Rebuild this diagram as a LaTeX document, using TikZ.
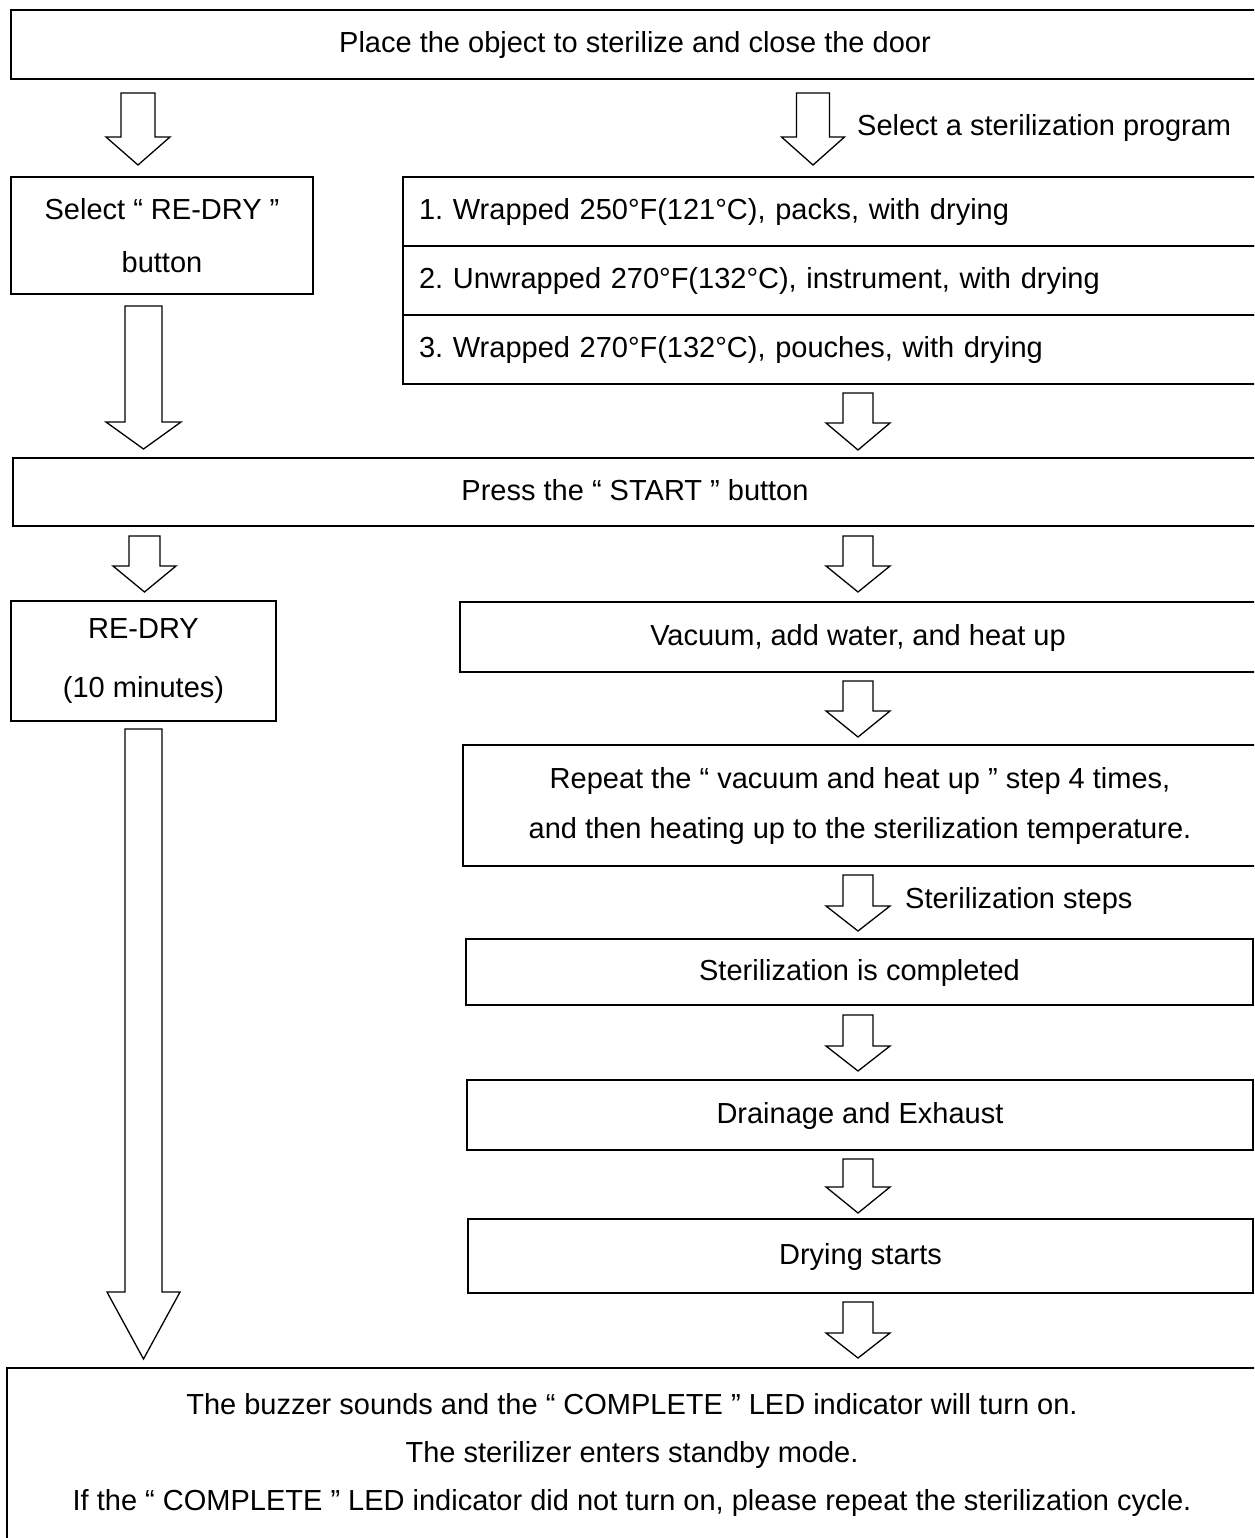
\documentclass[tikz,border=0pt]{standalone}
\usepackage{fontspec}
\setmainfont{Liberation Sans}
\usetikzlibrary{calc}
\frenchspacing
\begin{document}
\begin{tikzpicture}[x=1pt,y=-1pt,
  box/.style={draw=black, line width=1.8pt, fill=white, inner sep=0pt, outer sep=0pt,
    align=center, font=\fontsize{29}{35}\selectfont},
  one/.style={text height=20pt, text depth=4pt},
  row/.style={box, one, minimum height=69pt, text width=835pt, inner xsep=16pt, align=left},
  lbl/.style={inner sep=0pt, font=\fontsize{29}{35}\selectfont},
  % hollow block arrow: stem half-width, head half-width, head length
  blk/.style n args={3}{draw=black, line width=1.3pt, fill=white, line join=miter,
    to path={let \p1=(\tikztostart), \p2=(\tikztotarget) in
      (\x1-#1pt,\y1) -- (\x1-#1pt,\y2+#3pt) -- (\x1-#2pt,\y2+#3pt) -- (\x1,\y2)
      -- (\x1+#2pt,\y2+#3pt) -- (\x1+#1pt,\y2+#3pt) -- (\x1+#1pt,\y1) -- cycle}},
]
\clip (0,0) rectangle (1254,1538);
\fill[white] (0,0) rectangle (1254,1538);

% column guides for the arrows
\coordinate (cA) at (138,0);
\coordinate (cB) at (143.5,0);
\coordinate (cC) at (144.5,0);
\coordinate (cP) at (813,0);
\coordinate (cR) at (858,0);

% boxes
\node[box, one, minimum width=1248pt, minimum height=69pt] (top) at (635,44.5)
  {Place the object to sterilize and close the door};
\node[box, minimum width=302pt, minimum height=117pt,
  font=\fontsize{29}{53}\selectfont] (sel) at (162,235.5)
  {Select “ RE-DRY ”\\button};
\node[row] (p1) at (836.5,211.5) {1. Wrapped 250°F(121°C), packs, with drying};
\node[row] (p2) at (836.5,280.5) {2. Unwrapped 270°F(132°C), instrument, with drying};
\node[row] (p3) at (836.5,349.5) {3. Wrapped 270°F(132°C), pouches, with drying};
\node[lbl, anchor=west] (plbl) at (857,128) {Select a sterilization program};

\node[box, one, minimum width=1244pt, minimum height=68pt] (start) at (635,492)
  {Press the “ START ” button};
\node[box, minimum width=265pt, minimum height=120pt,
  font=\fontsize{29}{59}\selectfont] (redry) at (143.5,661)
  {RE-DRY\\(10 minutes)};
\node[box, one, minimum width=796pt, minimum height=70pt] (vac) at (858,637)
  {Vacuum, add water, and heat up};
\node[box, minimum width=794pt, minimum height=121pt,
  font=\fontsize{29}{50}\selectfont] (rep) at (860,805.5)
  {Repeat the “ vacuum and heat up ” step 4 times,\\and then heating up to the sterilization temperature.};
\node[lbl, anchor=west] (slbl) at (905,901) {Sterilization steps};
\node[box, one, minimum width=787pt, minimum height=66pt] (ster) at (859.5,972)
  {Sterilization is completed};
\node[box, one, minimum width=786pt, minimum height=70pt] (drain) at (860,1115)
  {Drainage and Exhaust};
\node[box, one, minimum width=785pt, minimum height=74pt] (dry) at (860.5,1256)
  {Drying starts};
\node[box, minimum width=1250pt, minimum height=192pt] (end) at (632,1464) {};
\node[lbl, align=center, font=\fontsize{29}{48}\selectfont] (endtxt) at (632,1455)
  {The buzzer sounds and the “ COMPLETE ” LED indicator will turn on.\\
   The sterilizer enters standby mode.\\
   If the “ COMPLETE ” LED indicator did not turn on, please repeat the sterilization cycle.};

% left column arrows
\draw[blk={17}{32}{28}] ($(top.south -| cA)+(0,14)$) to ($(sel.north -| cA)+(0,-12)$);
\draw[blk={18.5}{37.5}{27}] ($(sel.south -| cB)+(0,12)$) to ($(start.north -| cB)+(0,-9)$);
\draw[blk={15.5}{31.5}{26}] ($(start.south -| cC)+(0,10)$) to ($(redry.north -| cC)+(0,-9)$);
\draw[blk={18.5}{36.5}{67}] ($(redry.south -| cB)+(0,8)$) to ($(end.north -| cB)+(0,-9)$);

% right column arrows
\draw[blk={16.5}{31.5}{28}] ($(top.south -| cP)+(0,14)$) to ($(p1.north -| cP)+(0,-12)$);
\draw[blk={15}{32}{27}] ($(p3.south -| cR)+(0,9)$) to ($(start.north -| cR)+(0,-8)$);
\draw[blk={15}{32}{26}] ($(start.south -| cR)+(0,10)$) to ($(vac.north -| cR)+(0,-10)$);
\draw[blk={15}{32}{26}] ($(vac.south -| cR)+(0,9)$) to ($(rep.north -| cR)+(0,-8)$);
\draw[blk={15}{32}{25}] ($(rep.south -| cR)+(0,9)$) to ($(ster.north -| cR)+(0,-8)$);
\draw[blk={15}{32}{25}] ($(ster.south -| cR)+(0,10)$) to ($(drain.north -| cR)+(0,-9)$);
\draw[blk={15}{32}{26}] ($(drain.south -| cR)+(0,9)$) to ($(dry.north -| cR)+(0,-6)$);
\draw[blk={15}{32}{25}] ($(dry.south -| cR)+(0,9)$) to ($(end.north -| cR)+(0,-10)$);
\end{tikzpicture}
\end{document}
